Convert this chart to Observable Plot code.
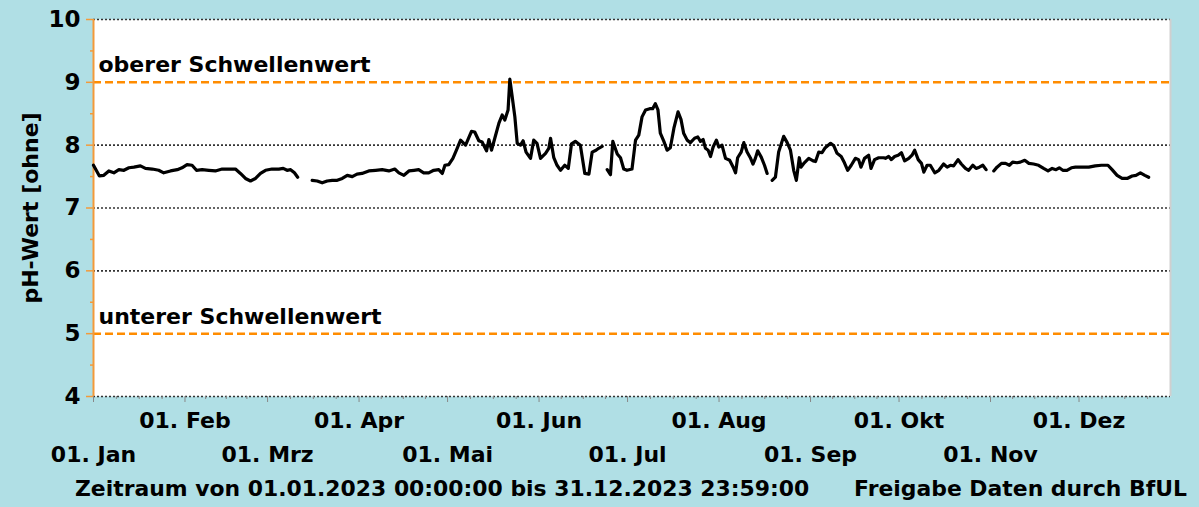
<!DOCTYPE html>
<html>
<head>
<meta charset="utf-8">
<script src="https://cdn.jsdelivr.net/npm/d3@7"></script>
<script src="https://cdn.jsdelivr.net/npm/@observablehq/plot@0.6"></script>
<style>
  html, body { margin: 0; padding: 0; background: #B0DFE5; }
  body { width: 1199px; height: 507px; overflow: hidden; position: relative;
         font-family: "DejaVu Sans", sans-serif; font-weight: bold; color: #000; }
  #chart { position: absolute; left: 0; top: 0; }
  #caption { position: absolute; left: 0; top: 475px; width: 1199px; height: 32px; font-size: 21.9px; }
  #caption span { position: absolute; top: 1px; white-space: nowrap; }
  #cap-left { left: 75px; }
  #cap-right { right: 12px; }
</style>
</head>
<body>
<div id="chart"></div>
<div id="caption"><span id="cap-left"></span><span id="cap-right"></span></div>
<script>
// ---- data ----
// day offset from 01.01.2023 (0 = 1 Jan); null pH = gap in the record
const days = [
  0,2,3.5,5.2,6.9,8.6,10.3,12,13.7,15.9,17.6,19.9,22.1,23.8,26.1,28.4,30,31.7,33.4,34.9,36.8,39.1,41.3,43.6,45.9,48.1,49.8,51.5,53.2,54.9,56.6,58.3,60.5,62.8,64.3,65.6,66.8,68.1,69.2,
  71.6,
  74.1,75.8,77.5,79.2,80.9,82.6,84.3,86.0,87.7,89.3,91.0,93.3,95.6,97.8,100.1,102.1,103.5,105.2,106.9,108.6,110.2,111.9,113.6,115.3,117.0,118.2,119.1,120.4,121.8,123.0,124.4,126.1,128.1,129.2,130.6,131.7,133.2,134.0,134.9,136.0,137.4,138.5,139.4,140.5,141.1,141.9,142.8,143.6,144.7,145.6,146.6,148.1,149.2,150.3,151.5,153.2,154.3,154.9,156.0,157.1,158.3,159.7,160.9,162.0,163.3,165.0,166.5,167.9,169.0,170.3,171.2,172.4,
  173.3,
  174.1,175.2,176.0,177.5,178.6,179.7,180.8,182.5,183.7,184.8,185.9,187.1,188.5,189.5,190.4,191.3,192.1,193.3,194.4,195.5,196.7,198.1,199.1,200.0,201.2,202.3,203.7,204.8,205.7,206.6,207.4,208.3,209.1,210.0,211.1,211.9,213.0,214.2,215.6,216.8,217.6,218.3,219.5,220.4,221.5,222.6,223.5,224.3,225.1,226.3,227.4,228.3,
  229.2,
  230.0,231.1,232.2,233.9,235.1,236.2,237.3,238.2,239.2,239.8,240.9,242.4,243.9,244.7,245.8,246.9,248.0,249.8,250.9,252.0,253.4,254.5,255.6,256.8,258.2,259.3,260.1,261.3,262.7,263.5,264.7,266.1,267.8,268.4,269.5,270.4,271.5,272.7,273.8,274.9,276.3,277.4,278.3,279.5,280.6,281.4,282.5,283.6,285.1,286.5,288.1,289.3,290.4,291.5,293.0,294.1,295.5,296.6,298.0,299.1,300.2,301.4,302.5,
  303.8,
  305.1,306.2,307.7,309.1,310.4,311.5,313.0,314.1,315.6,317.0,318.6,320.3,322.0,323.5,324.9,326.2,327.3,328.5,329.9,331.4,332.8,335.0,337.3,339.5,341.6,343.8,345.2,346.9,348.6,350.3,352.0,353.3,354.8,356.3,357.6
];
const ph = [
  7.68,7.51,7.52,7.59,7.56,7.61,7.60,7.64,7.65,7.67,7.63,7.62,7.60,7.56,7.59,7.61,7.64,7.69,7.68,7.60,7.61,7.60,7.59,7.62,7.62,7.62,7.55,7.47,7.43,7.47,7.55,7.60,7.62,7.62,7.63,7.60,7.61,7.56,7.49,
  null,
  7.44,7.43,7.40,7.43,7.44,7.44,7.47,7.52,7.50,7.54,7.55,7.59,7.60,7.61,7.59,7.62,7.56,7.52,7.59,7.60,7.61,7.56,7.56,7.60,7.61,7.55,7.68,7.69,7.79,7.92,8.08,8.00,8.22,8.21,8.07,8.05,7.91,8.09,7.92,8.11,8.35,8.48,8.40,8.56,9.05,8.77,8.45,8.03,8.00,8.07,7.89,7.79,8.08,8.03,7.79,7.87,7.95,8.11,7.80,7.68,7.60,7.68,7.63,8.02,8.06,8.00,7.55,7.54,7.89,7.92,7.95,7.98,
  null,
  7.61,7.53,8.06,7.86,7.80,7.62,7.60,7.62,8.08,8.16,8.45,8.56,8.58,8.58,8.66,8.56,8.19,8.06,7.92,7.96,8.27,8.53,8.41,8.19,8.08,8.04,8.11,8.13,8.06,8.09,7.95,7.92,7.82,7.97,8.08,7.97,8.00,7.79,7.76,7.65,7.56,7.80,7.89,8.04,7.89,7.80,7.70,7.79,7.91,7.81,7.68,7.55,
  null,
  7.44,7.49,7.89,8.14,8.04,7.92,7.60,7.44,7.80,7.65,7.72,7.79,7.75,7.74,7.89,7.88,7.96,8.03,7.99,7.87,7.82,7.72,7.60,7.68,7.79,7.77,7.65,7.79,7.84,7.63,7.77,7.80,7.80,7.79,7.82,7.77,7.82,7.84,7.88,7.75,7.79,7.84,7.92,7.77,7.71,7.57,7.68,7.68,7.56,7.60,7.70,7.65,7.68,7.67,7.77,7.70,7.63,7.60,7.68,7.63,7.65,7.68,7.61,
  null,
  7.59,7.65,7.71,7.71,7.68,7.73,7.72,7.73,7.76,7.71,7.70,7.68,7.63,7.59,7.63,7.61,7.64,7.60,7.60,7.64,7.65,7.65,7.65,7.67,7.68,7.68,7.61,7.52,7.47,7.47,7.51,7.52,7.56,7.52,7.49
];
const yTicks = [4, 5, 6, 7, 8, 9, 10];
const yMinorTicks = [4.5, 5.5, 6.5, 7.5, 8.5, 9.5];
const dottedLevels = [4, 6, 7, 8, 10];
const thresholds = [5, 9];
const thresholdLabels = ["unterer Schwellenwert", "oberer Schwellenwert"];
const monthNames = ["Jan", "Feb", "Mrz", "Apr", "Mai", "Jun", "Jul", "Aug", "Sep", "Okt", "Nov", "Dez"];
const yLabel = "pH-Wert [ohne]";
const captionLeft = "Zeitraum von 01.01.2023 00:00:00 bis 31.12.2023 23:59:00";
const captionRight = "Freigabe Daten durch BfUL";

// ---- build ----
const DAY = 86400000;
const t0 = Date.UTC(2023, 0, 1);
const start = new Date(t0);
const end = new Date(Date.UTC(2024, 0, 1));
const data = days.map((d, i) => ({date: new Date(t0 + d * DAY), ph: ph[i] == null ? NaN : ph[i]}));
const monthStarts = monthNames.map((_, m) => new Date(Date.UTC(2023, m, 1)));
const quarterTicks = [];
monthNames.forEach((_, m) => {
  const a = Date.UTC(2023, m, 1), b = Date.UTC(2023, m + 1, 1);
  for (let k = 1; k < 4; k++) quarterTicks.push(new Date(a + (b - a) * k / 4));
});
const evenRow = monthStarts.filter((_, m) => m % 2 === 1);
const oddRow = monthStarts.filter((_, m) => m % 2 === 0);
const fmtMonth = d => "01. " + monthNames[d.getUTCMonth()];
const thrData = thresholds.map((v, i) => ({v, label: thresholdLabels[i]}));

const orange = "#FF8C00";
const axisOrange = "#F39A3A";

const chart = Plot.plot({
  width: 1199,
  height: 475,
  marginTop: 19,
  marginBottom: 79,
  marginLeft: 93,
  marginRight: 29,
  style: {background: "transparent", fontFamily: "DejaVu Sans, sans-serif", fontWeight: "bold", color: "#000", overflow: "visible"},
  x: {type: "utc", domain: [start, end]},
  y: {domain: [4, 10]},
  marks: [
    Plot.frame({fill: "white", stroke: null}),
    Plot.ruleY(dottedLevels, {stroke: "#333", strokeWidth: 1.6, strokeDasharray: "2,2"}),
    Plot.ruleY(thresholds, {stroke: orange, strokeWidth: 2.5, strokeDasharray: "8,4"}),
    Plot.ruleX([end], {stroke: "#cfcfcf", strokeWidth: 2}),
    Plot.ruleX([start], {stroke: axisOrange, strokeWidth: 2}),
    Plot.axisY({ticks: yTicks, tickSize: 7, stroke: axisOrange, strokeWidth: 1.5, tickPadding: 6, fontSize: 23, tickFormat: d => String(d), label: null}),
    Plot.axisY({ticks: yMinorTicks, tickSize: 3, stroke: axisOrange, strokeWidth: 1.5, tickFormat: () => "", label: null}),
    Plot.axisX({ticks: monthStarts, tickSize: 6, stroke: "#888", tickFormat: () => "", label: null}),
    Plot.axisX({ticks: quarterTicks, tickSize: 3, stroke: "#888", tickFormat: () => "", label: null}),
    Plot.axisX({ticks: evenRow, tickSize: 0, tickPadding: 16, fontSize: 22, tickFormat: fmtMonth, label: null}),
    Plot.axisX({ticks: oddRow, tickSize: 0, tickPadding: 50, fontSize: 22, tickFormat: fmtMonth, label: null}),
    Plot.text([yLabel], {frameAnchor: "left", rotate: -90, textAnchor: "middle", dx: -63, fontSize: 22, fill: "#000"}),
    Plot.text(thrData, {x: () => start, y: "v", text: "label", textAnchor: "start", lineAnchor: "bottom", dx: 5, dy: -10, fontSize: 22, fill: "#000"}),
    Plot.line(data, {x: "date", y: "ph", stroke: "#000", strokeWidth: 3.2, strokeLinejoin: "round", curve: "linear"})
  ]
});
document.getElementById("chart").appendChild(chart);
document.getElementById("cap-left").textContent = captionLeft;
document.getElementById("cap-right").textContent = captionRight;
</script>
</body>
</html>
